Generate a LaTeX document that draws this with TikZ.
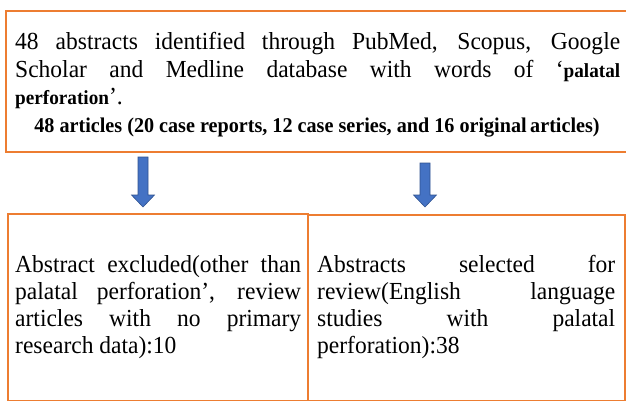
\documentclass[tikz,border=0pt]{standalone}
\usepackage{fontspec}
\setmainfont[FakeStretch=0.96]{Liberation Serif}
\usetikzlibrary{calc}
\definecolor{boxorange}{RGB}{237,125,49}
\definecolor{arrowblue}{RGB}{68,114,196}
\definecolor{arrowedge}{RGB}{47,82,143}
\newcommand{\boldpart}[1]{{\bfseries\fontsize{20}{24}\selectfont #1}}
\begin{document}
\begin{tikzpicture}[x=1pt,y=-1pt,
  framebox/.style={draw=boxorange,line width=1.8pt,inner sep=0pt,anchor=north west},
  textline/.style={anchor=base west,inner sep=0pt,font=\fontsize{24.5}{28}\selectfont},
  boldline/.style={anchor=base,inner sep=0pt,font=\bfseries\fontsize{21}{24}\selectfont},
  bluearrow/.style={fill=arrowblue,draw=arrowedge,line width=0.6pt}]
\useasboundingbox (0,0) rectangle (626,401);
\begin{scope}
\clip (0,0) rectangle (626,401);
\node[framebox,minimum width=625pt,minimum height=141pt] (top) at (5,10) {};
\node[framebox,minimum width=300pt,minimum height=187pt] (left) at (7,213) {};
\node[framebox,minimum width=317pt,minimum height=186pt] (right) at (307,214) {};
\end{scope}
% top box text
\node[textline] (t1) at (15,50) {\makebox[605pt][s]{48 abstracts identified through PubMed, Scopus, Google}};
\node[textline] (t2) at (15,78) {\makebox[605pt][s]{Scholar and Medline database with words of ‘\boldpart{palatal}}};
\node[textline] (t3) at (15,105) {\boldpart{perforation}’.};
\node[boldline] (t4) at (317,132) {48 articles (20 case reports, 12 case series, and 16 original\,articles)};
% left box text
\node[textline] (l1) at (15,272) {\makebox[286pt][s]{Abstract excluded(other than}};
\node[textline] (l2) at (15,299) {\makebox[286pt][s]{palatal perforation’, review}};
\node[textline] (l3) at (15,326) {\makebox[286pt][s]{articles with no primary}};
\node[textline] (l4) at (15,353) {research data):10};
% right box text
\node[textline] (r1) at (317,272) {\makebox[298pt][s]{Abstracts selected for}};
\node[textline] (r2) at (317,299) {\makebox[298pt][s]{review(English language}};
\node[textline] (r3) at (317,326) {\makebox[298pt][s]{studies with palatal}};
\node[textline] (r4) at (317,353) {perforation):38};
% arrows
\coordinate (a1) at (143,157);
\coordinate (a2) at (425,163);
\filldraw[bluearrow] ($(a1)+(-5,0)$) -- ($(a1)+(5,0)$) -- ($(a1)+(5,38)$) -- ($(a1)+(11.5,38)$) -- ($(a1)+(0,50)$) -- ($(a1)+(-11.5,38)$) -- ($(a1)+(-5,38)$) -- cycle;
\filldraw[bluearrow] ($(a2)+(-5,0)$) -- ($(a2)+(5,0)$) -- ($(a2)+(5,32)$) -- ($(a2)+(11.5,32)$) -- ($(a2)+(0,44)$) -- ($(a2)+(-11.5,32)$) -- ($(a2)+(-5,32)$) -- cycle;
\end{tikzpicture}
\end{document}
